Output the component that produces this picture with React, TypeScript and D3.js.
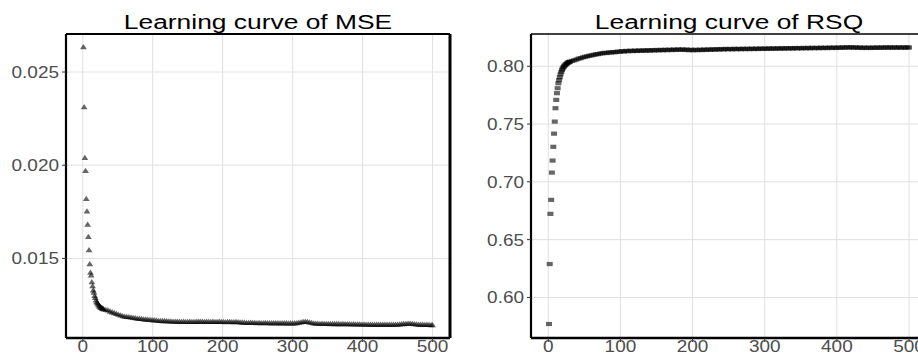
import React from "react";
import * as d3 from "d3";

const titleMSE = "Learning curve of MSE";
const titleRSQ = "Learning curve of RSQ";

const epochs: number[] = [
  1, 2, 3, 4, 5, 6, 7, 8, 9, 10,
  11, 12, 13, 14, 15, 16, 17, 18, 19, 20,
  21, 22, 23, 24, 25, 26, 27, 28, 29, 30,
  33, 36, 39, 42, 45, 48, 51, 54, 57, 60,
  63, 66, 69, 72, 75, 78, 81, 84, 87, 90,
  93, 96, 99, 102, 105, 108, 111, 114, 117, 120,
  123, 126, 129, 132, 135, 138, 141, 144, 147, 150,
  153, 156, 159, 162, 165, 168, 171, 174, 177, 180,
  183, 186, 189, 192, 195, 198, 201, 204, 207, 210,
  213, 216, 219, 222, 225, 228, 231, 234, 237, 240,
  243, 246, 249, 252, 255, 258, 261, 264, 267, 270,
  273, 276, 279, 282, 285, 288, 291, 294, 297, 300,
  303, 306, 309, 312, 315, 318, 321, 324, 327, 330,
  333, 336, 339, 342, 345, 348, 351, 354, 357, 360,
  363, 366, 369, 372, 375, 378, 381, 384, 387, 390,
  393, 396, 399, 402, 405, 408, 411, 414, 417, 420,
  423, 426, 429, 432, 435, 438, 441, 444, 447, 450,
  453, 456, 459, 462, 465, 468, 471, 474, 477, 480,
  483, 486, 489, 492, 495, 498, 500,
];

const mse: number[] = [
  0.02634, 0.02312, 0.0204, 0.0197, 0.0182, 0.01753, 0.01682, 0.01616, 0.01545, 0.0147,
  0.01425, 0.0141, 0.01374, 0.01352, 0.0133, 0.01318, 0.013, 0.01289, 0.01276, 0.01267,
  0.01261, 0.01254, 0.01249, 0.01243, 0.0124, 0.01237, 0.01235, 0.01232, 0.0123, 0.01228,
  0.01225, 0.01222, 0.01216, 0.01212, 0.01208, 0.01203, 0.01199, 0.01195, 0.01191, 0.01189,
  0.01187, 0.01186, 0.01184, 0.01182, 0.0118, 0.01178, 0.01177, 0.01176, 0.01174, 0.01173,
  0.01172, 0.01171, 0.0117, 0.01169, 0.01168, 0.01166, 0.01166, 0.01165, 0.01165, 0.01164,
  0.01163, 0.01163, 0.01162, 0.01162, 0.01161, 0.01161, 0.0116, 0.01161, 0.0116, 0.0116,
  0.01161, 0.0116, 0.0116, 0.01161, 0.01161, 0.01162, 0.01161, 0.0116, 0.01161, 0.0116,
  0.0116, 0.01161, 0.0116, 0.0116, 0.01161, 0.0116, 0.0116, 0.01159, 0.0116, 0.0116,
  0.01159, 0.01159, 0.0116, 0.01159, 0.01158, 0.01157, 0.01156, 0.01155, 0.01155, 0.01156,
  0.01155, 0.01155, 0.01154, 0.01155, 0.01154, 0.01154, 0.01155, 0.01154, 0.01154, 0.01153,
  0.01154, 0.01154, 0.01153, 0.01153, 0.01154, 0.01153, 0.01153, 0.01152, 0.01153, 0.01152,
  0.01153, 0.01154, 0.01156, 0.01158, 0.0116, 0.01161, 0.0116, 0.01158, 0.01155, 0.01152,
  0.01151, 0.01151, 0.0115, 0.01151, 0.0115, 0.0115, 0.0115, 0.01149, 0.0115, 0.01149,
  0.01149, 0.01149, 0.01148, 0.01149, 0.01148, 0.01148, 0.01148, 0.01147, 0.01148, 0.01147,
  0.01147, 0.01147, 0.01146, 0.01147, 0.01146, 0.01146, 0.01145, 0.01146, 0.01145, 0.01145,
  0.01146, 0.01145, 0.01145, 0.01146, 0.01145, 0.01145, 0.01146, 0.01145, 0.01146, 0.01146,
  0.01147, 0.01148, 0.01149, 0.0115, 0.01151, 0.01151, 0.0115, 0.01148, 0.01147, 0.01146,
  0.01145, 0.01145, 0.01144, 0.01145, 0.01144, 0.01143, 0.01143,
];

const rsq: number[] = [
  0.577, 0.6289, 0.6723, 0.6844, 0.708, 0.7184, 0.7303, 0.7417, 0.7521, 0.7637,
  0.7709, 0.7767, 0.781, 0.7853, 0.788, 0.7905, 0.793, 0.795, 0.7968, 0.798,
  0.7992, 0.8, 0.8008, 0.8014, 0.802, 0.8025, 0.803, 0.8034, 0.8037, 0.804,
  0.8046, 0.8052, 0.8058, 0.8066, 0.807, 0.8077, 0.8082, 0.8086, 0.8091, 0.8094,
  0.8099, 0.8103, 0.8105, 0.811, 0.8112, 0.8116, 0.8114, 0.812, 0.8119, 0.8123,
  0.8121, 0.8127, 0.8125, 0.8131, 0.8127, 0.8133, 0.813, 0.8135, 0.8131, 0.8136,
  0.8132, 0.8137, 0.8133, 0.8138, 0.8134, 0.8139, 0.8135, 0.814, 0.8136, 0.8141,
  0.8137, 0.8142, 0.8138, 0.8143, 0.8139, 0.8144, 0.814, 0.8145, 0.8141, 0.8146,
  0.8142, 0.8146, 0.8141, 0.8145, 0.8139, 0.8143, 0.8138, 0.8143, 0.8139, 0.8144,
  0.814, 0.8145, 0.8141, 0.8146, 0.8142, 0.8147, 0.8143, 0.8148, 0.8144, 0.8149,
  0.8145, 0.815, 0.8146, 0.815, 0.8146, 0.8151, 0.8147, 0.8151, 0.8147, 0.8152,
  0.8148, 0.8152, 0.8148, 0.8153, 0.8149, 0.8153, 0.8149, 0.8154, 0.815, 0.8154,
  0.815, 0.8155, 0.8151, 0.8155, 0.8151, 0.8156, 0.8152, 0.8156, 0.8152, 0.8157,
  0.8153, 0.8157, 0.8153, 0.8158, 0.8154, 0.8158, 0.8154, 0.8159, 0.8155, 0.8159,
  0.8155, 0.816, 0.8156, 0.816, 0.8156, 0.8161, 0.8157, 0.8161, 0.8157, 0.8162,
  0.8158, 0.8162, 0.8158, 0.8163, 0.8159, 0.8164, 0.816, 0.8165, 0.8161, 0.8165,
  0.816, 0.8164, 0.8159, 0.8163, 0.8158, 0.8162, 0.8158, 0.8162, 0.8158, 0.8162,
  0.8159, 0.8163, 0.8159, 0.8163, 0.816, 0.8164, 0.816, 0.8164, 0.816, 0.8164,
  0.816, 0.8164, 0.816, 0.8164, 0.816, 0.8164, 0.8162,
];

const xTicks: number[] = [0, 100, 200, 300, 400, 500];
const xTickLabels: string[] = ["0", "100", "200", "300", "400", "500"];
const mseTicks: number[] = [0.015, 0.02, 0.025];
const mseTickLabels: string[] = ["0.015", "0.020", "0.025"];
const rsqTicks: number[] = [0.6, 0.65, 0.7, 0.75, 0.8];
const rsqTickLabels: string[] = ["0.60", "0.65", "0.70", "0.75", "0.80"];

const FONT = "'Liberation Sans', Arial, Helvetica, sans-serif";
const GRID = "#e0e0e0";
const TICKTXT = "#4d4d4d";

type PanelProps = {
  left: number;
  right: number;
  top: number;
  bottom: number;
  yDomain: [number, number];
  yTicks: number[];
  yLabels: string[];
  values: number[];
  shape: "triangle" | "square";
  title: string;
  rightBorder: boolean;
};

function Panel(p: PanelProps) {
  const x = d3.scaleLinear().domain([-23.95, 524.95]).range([p.left, p.right]);
  const y = d3.scaleLinear().domain(p.yDomain).range([p.bottom, p.top]);
  const tri = "M0,-3L3.4,2.3L-3.4,2.3Z";
  const cx = (p.left + p.right) / 2;
  return (
    <g>
      {xTicks.map((t) => (
        <line key={"gx" + t} x1={x(t)} x2={x(t)} y1={p.top} y2={p.bottom} stroke={GRID} strokeWidth={1} />
      ))}
      {p.yTicks.map((t) => (
        <line key={"gy" + t} x1={p.left} x2={p.right} y1={y(t)} y2={y(t)} stroke={GRID} strokeWidth={1} />
      ))}
      <g fill="#000" fillOpacity={0.6}>
        {p.values.map((v, i) =>
          p.shape === "triangle" ? (
            <path key={i} d={tri} transform={`translate(${x(epochs[i])},${y(v)})`} />
          ) : (
            <rect key={i} x={x(epochs[i]) - 3} y={y(v) - 2.1} width={6} height={4.2} />
          )
        )}
      </g>
      <line x1={p.left} x2={p.right} y1={p.top} y2={p.top} stroke="#000" strokeWidth={p.rightBorder ? 2 : 1.4} />
      <line x1={p.left} x2={p.right} y1={p.bottom} y2={p.bottom} stroke="#000" strokeWidth={2.4} />
      <line x1={p.left} x2={p.left} y1={p.top} y2={p.bottom} stroke="#000" strokeWidth={2.2} />
      {p.rightBorder && (
        <line x1={p.right} x2={p.right} y1={p.top} y2={p.bottom} stroke="#000" strokeWidth={3} />
      )}
      {p.yTicks.map((t, i) => (
        <g key={"ya" + t}>
          <line x1={p.left - 4} x2={p.left} y1={y(t)} y2={y(t)} stroke="#333" strokeWidth={1} />
          <text
            transform={`translate(${p.left - 7},${y(t) + 5.9}) scale(1.13,1)`}
            textAnchor="end"
            fontSize={16.8}
            fontFamily={FONT}
            fill={TICKTXT}
          >
            {p.yLabels[i]}
          </text>
        </g>
      ))}
      {xTicks.map((t, i) => (
        <g key={"xa" + t}>
          <line x1={x(t)} x2={x(t)} y1={p.bottom} y2={p.bottom + 4} stroke="#333" strokeWidth={1} />
          <text
            transform={`translate(${x(t)},${p.bottom + 14}) scale(1.13,1)`}
            textAnchor="middle"
            fontSize={16.8}
            fontFamily={FONT}
            fill={TICKTXT}
          >
            {xTickLabels[i]}
          </text>
        </g>
      ))}
      <text
        transform={`translate(${cx},28.5) scale(1.32,1)`}
        textAnchor="middle"
        fontSize={20}
        fontFamily={FONT}
        fill="#000"
      >
        {p.title}
      </text>
    </g>
  );
}

export default function App() {
  return (
    <svg
      width={918}
      height={360}
      viewBox="0 0 918 360"
      style={{ position: "absolute", left: 0, top: 0, display: "block", background: "#fff" }}
    >
      <rect x={0} y={0} width={918} height={360} fill="#fff" />
      <Panel
        left={66}
        right={450}
        top={34}
        bottom={338}
        yDomain={[0.01073, 0.02704]}
        yTicks={mseTicks}
        yLabels={mseTickLabels}
        values={mse}
        shape="triangle"
        title={titleMSE}
        rightBorder={true}
      />
      <Panel
        left={531}
        right={927}
        top={34}
        bottom={338}
        yDomain={[0.5649, 0.8279]}
        yTicks={rsqTicks}
        yLabels={rsqTickLabels}
        values={rsq}
        shape="square"
        title={titleRSQ}
        rightBorder={false}
      />
    </svg>
  );
}
